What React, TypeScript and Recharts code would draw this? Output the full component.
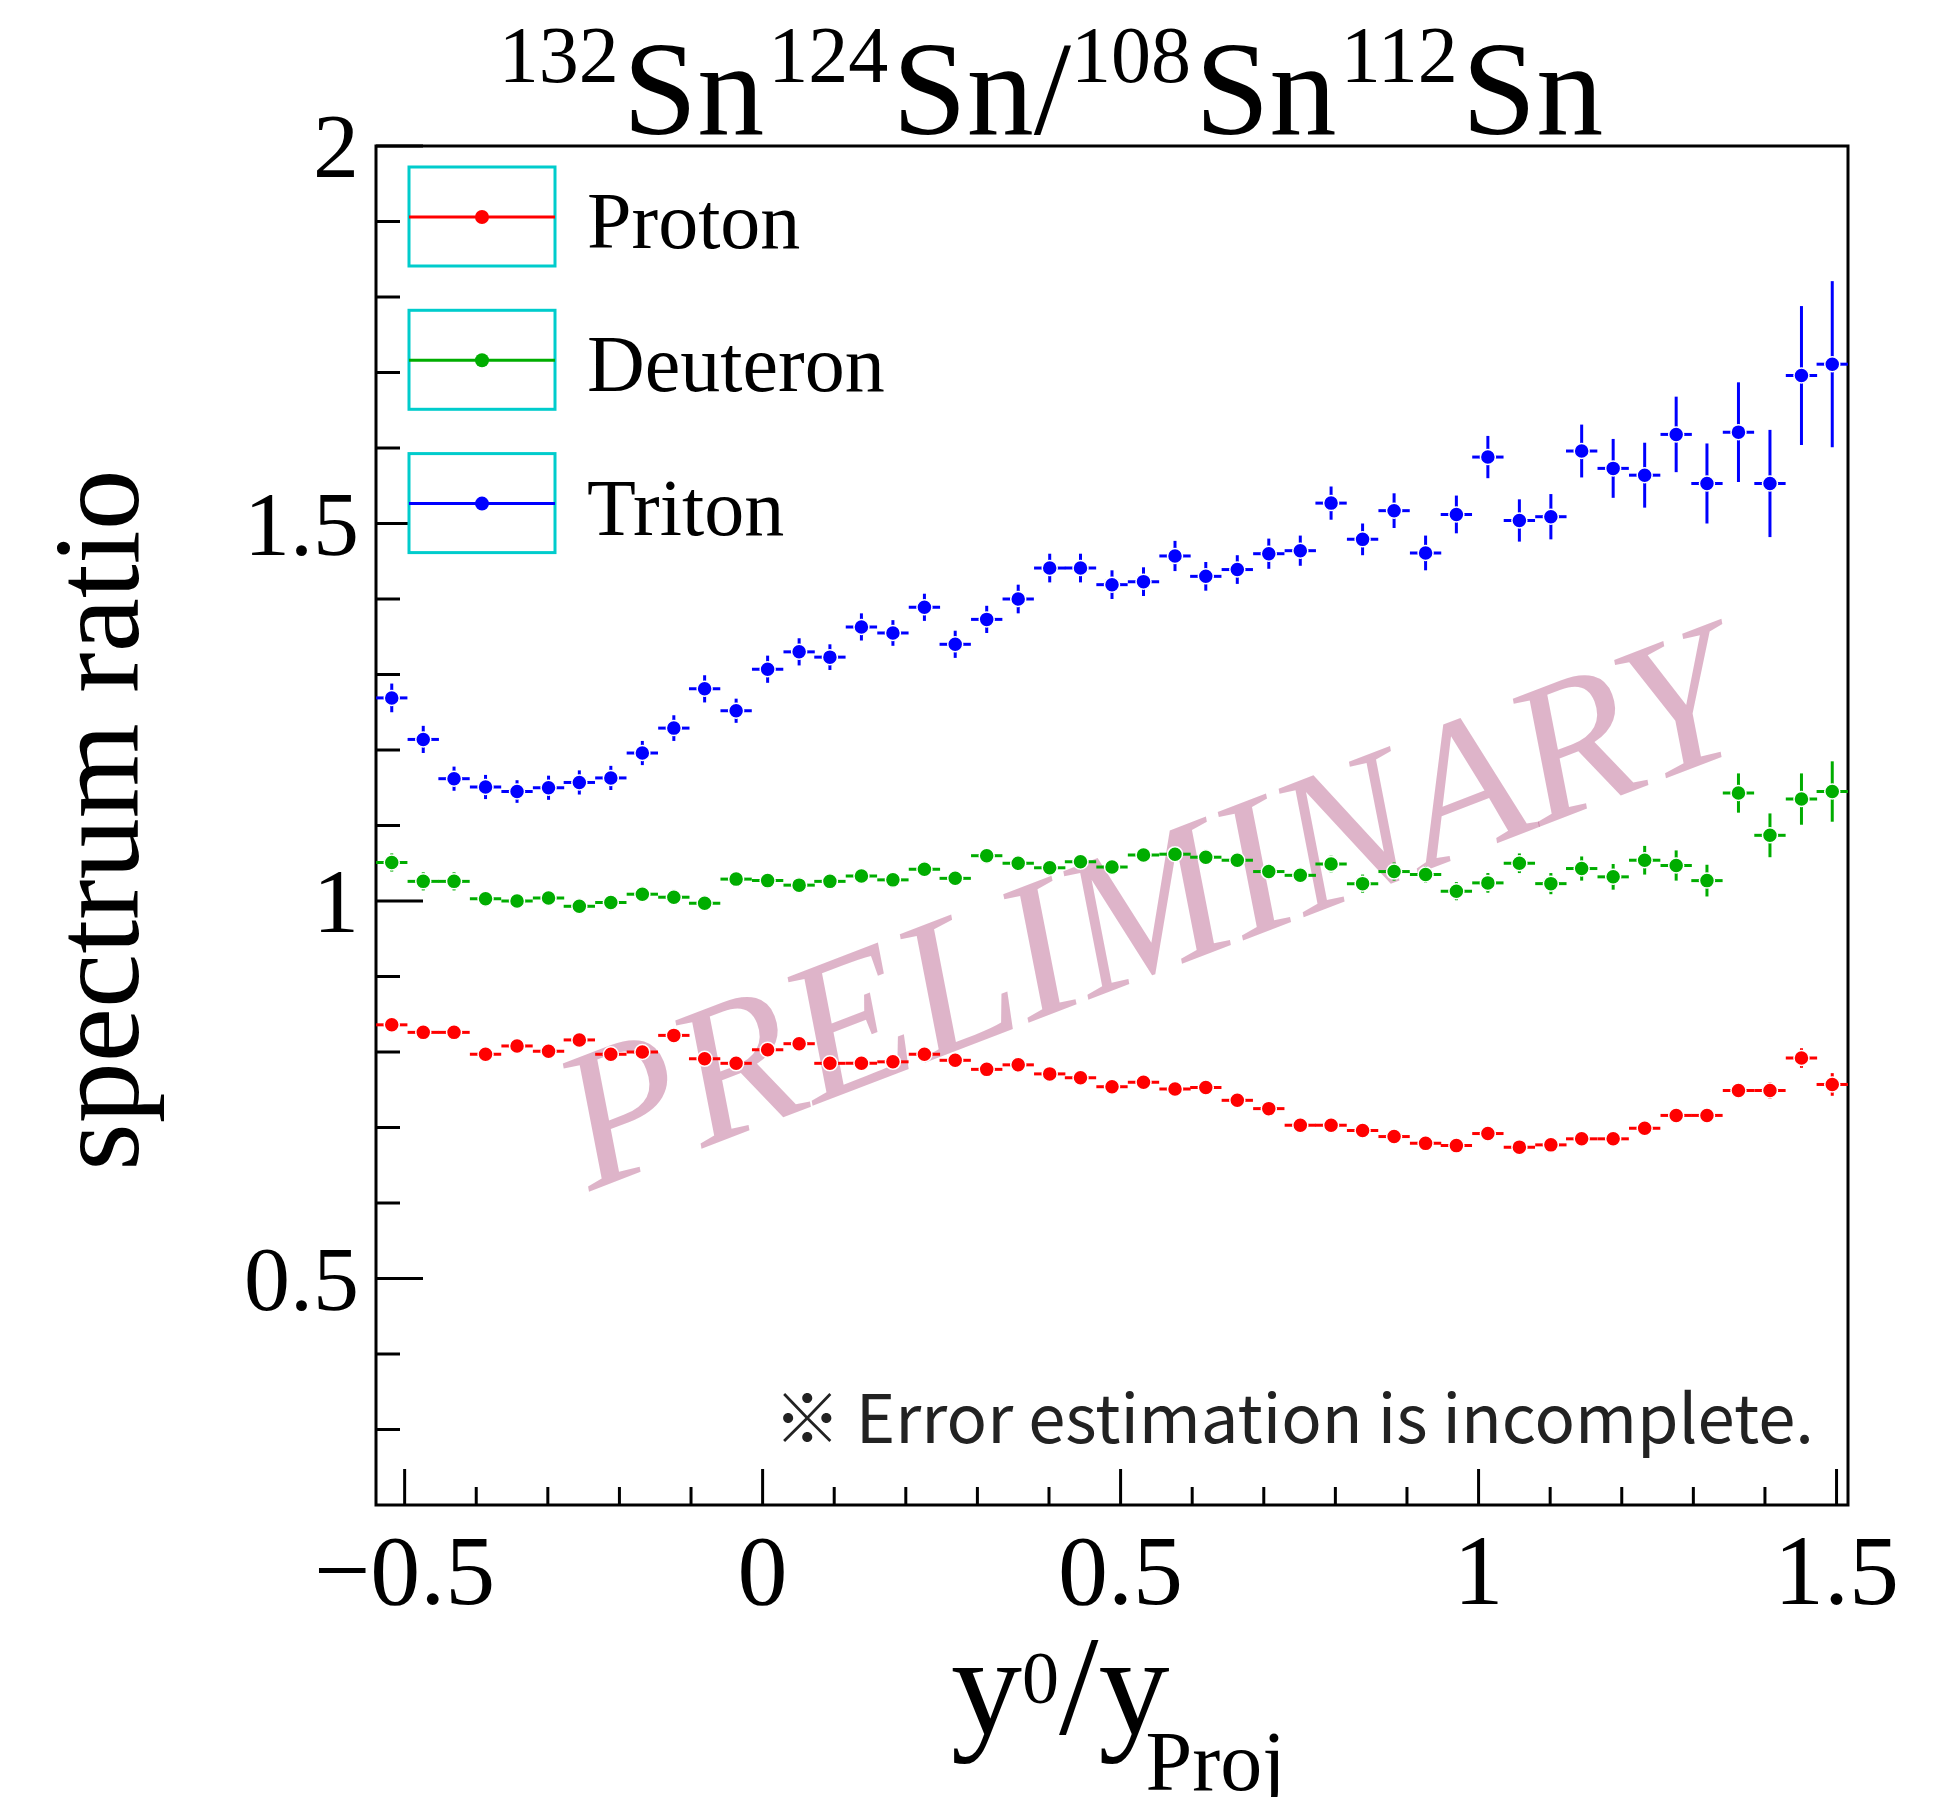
import React from "react";
import {
  ScatterChart,
  Scatter,
  XAxis,
  YAxis,
  ErrorBar,
  ReferenceArea,
  Legend,
} from "recharts";

// bin centres of y0/yProj
const rapidity = [
  -0.518, -0.474, -0.431, -0.387, -0.343, -0.299, -0.256, -0.212, -0.168, -0.124,
  -0.081, -0.037, 0.007, 0.051, 0.094, 0.138, 0.182, 0.226, 0.269, 0.313,
  0.357, 0.401, 0.444, 0.488, 0.532, 0.576, 0.619, 0.663, 0.707, 0.751,
  0.794, 0.838, 0.882, 0.926, 0.969, 1.013, 1.057, 1.101, 1.144, 1.188,
  1.232, 1.276, 1.319, 1.363, 1.407, 1.451, 1.494,
];
const binHalfWidth = 0.021875;

const protonRatio = [
  0.836, 0.826, 0.826, 0.797, 0.808, 0.801, 0.816, 0.797, 0.8, 0.822,
  0.791, 0.785, 0.803, 0.811, 0.785, 0.785, 0.787, 0.797, 0.789, 0.777,
  0.783, 0.771, 0.766, 0.754, 0.76, 0.751, 0.753, 0.736, 0.725, 0.703,
  0.703, 0.696, 0.688, 0.679, 0.676, 0.692, 0.674, 0.677, 0.685, 0.685,
  0.699, 0.716, 0.716, 0.749, 0.749, 0.792, 0.757,
];
const protonError = [
  0.005, 0.005, 0.005, 0.005, 0.005, 0.005, 0.005, 0.005, 0.005, 0.005,
  0.005, 0.005, 0.005, 0.005, 0.005, 0.005, 0.005, 0.005, 0.005, 0.005,
  0.005, 0.005, 0.005, 0.005, 0.005, 0.005, 0.005, 0.006, 0.006, 0.006,
  0.006, 0.006, 0.006, 0.006, 0.006, 0.006, 0.007, 0.007, 0.007, 0.008,
  0.008, 0.008, 0.009, 0.01, 0.011, 0.013, 0.015,
];

const deuteronRatio = [
  1.051, 1.026, 1.026, 1.003, 1.0, 1.004, 0.993, 0.998, 1.009, 1.005,
  0.997, 1.029, 1.027, 1.021, 1.026, 1.033, 1.028, 1.042, 1.03, 1.06,
  1.05, 1.044, 1.052, 1.045, 1.061, 1.062, 1.058, 1.054, 1.039, 1.034,
  1.049, 1.023, 1.039, 1.035, 1.013, 1.024, 1.05, 1.023, 1.043, 1.032,
  1.054, 1.047, 1.027, 1.143, 1.087, 1.135, 1.145,
];
const deuteronError = [
  0.012, 0.012, 0.012, 0.01, 0.01, 0.01, 0.01, 0.01, 0.01, 0.01,
  0.01, 0.01, 0.01, 0.01, 0.01, 0.01, 0.01, 0.01, 0.01, 0.01,
  0.01, 0.01, 0.01, 0.01, 0.01, 0.01, 0.01, 0.01, 0.01, 0.01,
  0.011, 0.012, 0.012, 0.011, 0.012, 0.013, 0.013, 0.014, 0.016, 0.017,
  0.019, 0.02, 0.021, 0.026, 0.029, 0.034, 0.04,
];

const tritonRatio = [
  1.269, 1.214, 1.162, 1.151, 1.145, 1.15, 1.157, 1.163, 1.196, 1.229,
  1.281, 1.252, 1.307, 1.33, 1.323, 1.363, 1.355, 1.389, 1.34, 1.373,
  1.4, 1.441, 1.441, 1.419, 1.423, 1.457, 1.43, 1.439, 1.46, 1.464,
  1.527, 1.479, 1.517, 1.461, 1.512, 1.588, 1.504, 1.509, 1.596, 1.573,
  1.564, 1.618, 1.553, 1.621, 1.553, 1.696, 1.711,
];
const tritonError = [
  0.019, 0.018, 0.016, 0.016, 0.015, 0.016, 0.016, 0.016, 0.016, 0.017,
  0.018, 0.016, 0.018, 0.018, 0.017, 0.018, 0.017, 0.018, 0.018, 0.018,
  0.019, 0.019, 0.019, 0.019, 0.019, 0.02, 0.019, 0.019, 0.02, 0.02,
  0.022, 0.021, 0.023, 0.023, 0.025, 0.028, 0.028, 0.03, 0.035, 0.039,
  0.043, 0.05, 0.053, 0.066, 0.071, 0.092, 0.11,
];

const seriesNames = ["Proton", "Deuteron", "Triton"];
const seriesColors = ["#ff0000", "#00ad00", "#0000ff"];

const xTicks = [
  -0.5, -0.4, -0.3, -0.2, -0.1, 0, 0.1, 0.2, 0.3, 0.4, 0.5, 0.6, 0.7, 0.8,
  0.9, 1, 1.1, 1.2, 1.3, 1.4, 1.5,
];
const yTicks = [
  0.3, 0.4, 0.5, 0.6, 0.7, 0.8, 0.9, 1, 1.1, 1.2, 1.3, 1.4, 1.5, 1.6, 1.7,
  1.8, 1.9, 2,
];

const SERIF = '"Liberation Serif", "Times New Roman", serif';

function toRows(ratio: number[], err: number[]) {
  return rapidity.map((x, i) => ({ x, y: ratio[i], ex: binHalfWidth, ey: err[i] }));
}

const isMajor = (v: number) => Math.abs(v * 2 - Math.round(v * 2)) < 1e-6;
const fmt = (v: number) => (v < 0 ? "\u2212" : "") + String(Math.round(Math.abs(v) * 10) / 10);

function YTick(props: any) {
  const { x, y, payload } = props;
  const major = isMajor(payload.value);
  return (
    <g>
      <line x1={x} y1={y} x2={x + (major ? 47 : 24)} y2={y} stroke="#000" strokeWidth={3} />
      {major && (
        <text x={x - 17} y={y + 31} textAnchor="end" fontSize={92} fontFamily={SERIF} fill="#000">
          {fmt(payload.value)}
        </text>
      )}
    </g>
  );
}

function XTick(props: any) {
  const { x, y, payload } = props;
  const major = isMajor(payload.value);
  return (
    <g>
      <line x1={x} y1={y} x2={x} y2={y - (major ? 36 : 18)} stroke="#000" strokeWidth={3} />
      {major && (
        <text x={x} y={y + 99} textAnchor="middle" fontSize={100} fontFamily={SERIF} fill="#000">
          {fmt(payload.value)}
        </text>
      )}
    </g>
  );
}

const marker = (color: string) => (p: any) =>
  <circle cx={p.cx} cy={p.cy} r={7.5} fill={color} stroke="#fff" strokeWidth={1.5} />;

function LegendBoxes() {
  return (
    <svg width={620} height={430} style={{ display: "block" }}>
      {seriesNames.map((name, i) => {
        const top = 21 + i * 143.3;
        return (
          <g key={name}>
            <rect x={33} y={top} width={146} height={99} fill="#fff" stroke="#00cccc" strokeWidth={3} />
            <line x1={33} x2={179} y1={top + 50} y2={top + 50} stroke={seriesColors[i]} strokeWidth={3} />
            <circle cx={106} cy={top + 50} r={7} fill={seriesColors[i]} />
            <text x={211} y={top + 81} fontSize={80} fontFamily={SERIF} fill="#000">
              {name}
            </text>
          </g>
        );
      })}
    </svg>
  );
}

export default function App() {
  const series = [
    toRows(protonRatio, protonError),
    toRows(deuteronRatio, deuteronError),
    toRows(tritonRatio, tritonError),
  ];

  return (
    <div style={{ position: "absolute", left: 0, top: 0, background: "#fff" }}>
      <ScatterChart
        width={1942}
        height={1797}
        margin={{ top: 146, right: 94, bottom: 192, left: 256 }}
      >
        <XAxis
          type="number"
          dataKey="x"
          domain={[-0.54, 1.516]}
          allowDataOverflow
          ticks={xTicks}
          interval={0}
          tickSize={0}
          tickMargin={0}
          tickLine={false}
          axisLine={false}
          height={100}
          tick={(p: any) => <XTick {...p} />}
        />
        <YAxis
          type="number"
          dataKey="y"
          domain={[0.2, 2]}
          allowDataOverflow
          ticks={yTicks}
          interval={0}
          tickSize={0}
          tickMargin={0}
          tickLine={false}
          axisLine={false}
          width={120}
          tick={(p: any) => <YTick {...p} />}
        />
        <ReferenceArea
          x1={-0.54}
          x2={1.516}
          y1={0.2}
          y2={2}
          fill="none"
          stroke="#000"
          strokeWidth={3}
          ifOverflow="visible"
        />
        {series.map((data, i) => (
          <Scatter
            key={seriesNames[i]}
            name={seriesNames[i]}
            data={data}
            fill={seriesColors[i]}
            isAnimationActive={false}
            shape={marker(seriesColors[i])}
          >
            <ErrorBar dataKey="ex" direction="x" width={0} stroke={seriesColors[i]} strokeWidth={3} isAnimationActive={false} />
            <ErrorBar dataKey="ey" direction="y" width={0} stroke={seriesColors[i]} strokeWidth={3} isAnimationActive={false} />
          </Scatter>
        ))}
        <Legend
          layout="vertical"
          align="center"
          verticalAlign="middle"
          wrapperStyle={{ left: 376, top: 146, width: 620, height: 430 }}
          content={() => <LegendBoxes />}
        />
        <text
          x={1146}
          y={904}
          dy="0.35em"
          textAnchor="middle"
          transform="rotate(-21 1146 904)"
          fontSize={197}
          fontStyle="italic"
          fontFamily={SERIF}
          fill="#a02864"
          fillOpacity={0.35}
        >
          PRELIMINARY
        </text>
        <text
          x={1814}
          y={1443}
          textAnchor="end"
          fontSize={67}
          fontFamily='"Noto Sans CJK JP", "Noto Sans", sans-serif'
          fill="#222"
        >
          ※ Error estimation is incomplete.
        </text>
        <text x={1051} y={134} textAnchor="middle" fontSize={134} fontFamily={SERIF} fill="#000">
          <tspan fontSize={80} dy={-52}>132</tspan>
          <tspan dx={4} dy={52}>Sn</tspan>
          <tspan fontSize={80} dx={4} dy={-52}>124</tspan>
          <tspan dx={4} dy={52}>Sn/</tspan>
          <tspan fontSize={80} dy={-52}>108</tspan>
          <tspan dx={4} dy={52}>Sn</tspan>
          <tspan fontSize={80} dx={4} dy={-52}>112</tspan>
          <tspan dx={4} dy={52}>Sn</tspan>
        </text>
        <text x={951} y={1734} fontSize={142} fontFamily={SERIF} fill="#000">
          y
          <tspan fontSize={74} dy={-31}>0</tspan>
          <tspan dy={31}>/y</tspan>
          <tspan fontSize={84} dx={-24} dy={56}>Proj</tspan>
        </text>
        <text
          transform="translate(138 820) rotate(-90)"
          textAnchor="middle"
          fontSize={122}
          fontFamily={SERIF}
          fill="#000"
        >
          spectrum ratio
        </text>
      </ScatterChart>
    </div>
  );
}
